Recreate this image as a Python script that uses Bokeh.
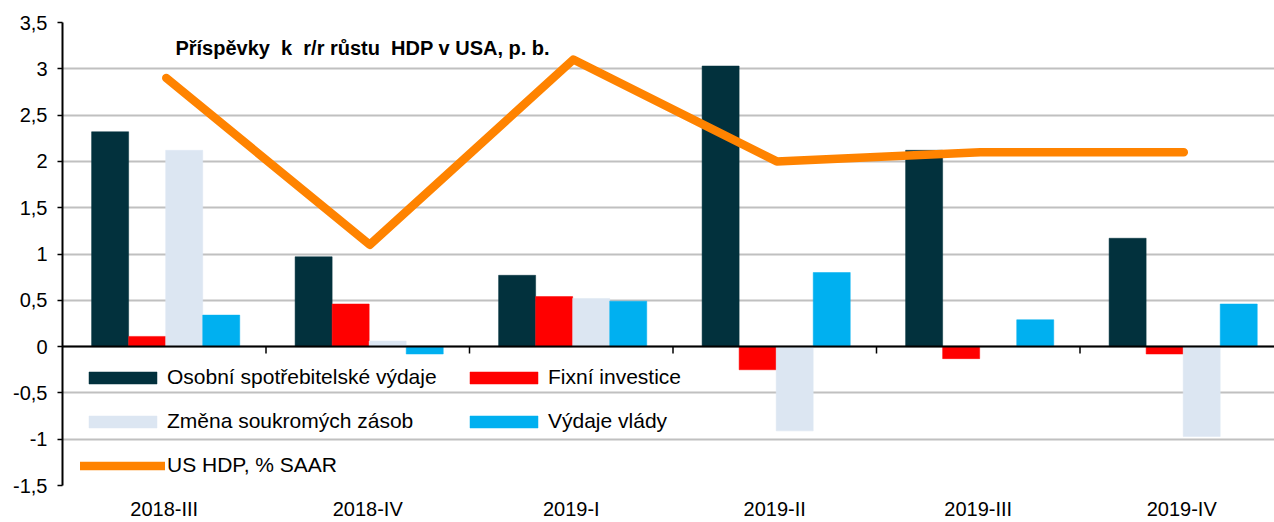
from bokeh.plotting import figure
from bokeh.models import (Range1d, FixedTicker, Legend, LegendItem,
                          Span, Label, ColumnDataSource)
from bokeh.embed import file_html
from bokeh.resources import INLINE

quarters = ["2018-III", "2018-IV", "2019-I", "2019-II", "2019-III", "2019-IV"]
consumption = [2.32, 0.97, 0.77, 3.03, 2.12, 1.17]
fixed_investment = [0.11, 0.46, 0.54, -0.25, -0.13, -0.08]
inventories = [2.12, 0.06, 0.52, -0.91, 0.0, -0.97]
government = [0.34, -0.08, 0.49, 0.80, 0.29, 0.46]
gdp_saar = [2.9, 1.1, 3.1, 2.0, 2.1, 2.1]

y_ticks = [-1.5, -1.0, -0.5, 0.0, 0.5, 1.0, 1.5, 2.0, 2.5, 3.0, 3.5]
y_tick_labels = ["-1,5", "-1", "-0,5", "0", "0,5", "1", "1,5", "2", "2,5", "3", "3,5"]

series_names = ["Osobní spotřebitelské výdaje", "Fixní investice",
                "Změna soukromých zásob", "Výdaje vlády"]
line_name = "US HDP, % SAAR"
NB = "\u00a0"
title_text = f"Příspěvky {NB}k {NB}r/r růstu {NB}HDP v USA, p. b."

colors = ["#02313D", "#FF0000", "#DCE6F2", "#00B0F0"]
line_color = "#FF8300"
FONT = "Liberation Sans"

n = len(quarters)
centers = [i + 0.5 for i in range(n)]   # category index -> axis position

bw = 0.182
offsets = [-0.266, -0.084, 0.098, 0.280]
series = [consumption, fixed_investment, inventories, government]

p = figure(x_range=Range1d(0, n * 1212 / 1221), y_range=Range1d(-1.5, 3.5),
           width=1274, height=522, output_backend="svg", toolbar_location=None,
           min_border_left=62, min_border_right=0, min_border_top=22,
           min_border_bottom=35)
p.outline_line_color = None
p.background_fill_color = "white"

bar_renderers = []
for vals, off, col in zip(series, offsets, colors):
    src = ColumnDataSource(dict(x=[c + off for c in centers], top=vals))
    r = p.vbar(x="x", top="top", bottom=0, width=bw, source=src,
               fill_color=col, line_color=col, line_width=0.5)
    bar_renderers.append(r)

# zero line
p.add_layout(Span(location=0, dimension="width", line_color="black", line_width=2))

# tick marks at category boundaries on the zero line
bounds = list(range(1, n))
p.segment(x0=bounds, x1=bounds, y0=[0] * len(bounds), y1=[-0.075] * len(bounds),
          line_color="black", line_width=1.5)

line_src = ColumnDataSource(dict(x=[c + 0.01 for c in centers], y=gdp_saar))
line_r = p.line(x="x", y="y", source=line_src, line_color=line_color,
                line_width=8.5, line_cap="round", line_join="round")

# axes
p.yaxis.ticker = FixedTicker(ticks=y_ticks)
p.yaxis.major_label_overrides = {t: l for t, l in zip(y_ticks, y_tick_labels)}
p.yaxis.axis_line_color = "black"
p.yaxis.axis_line_width = 2
p.yaxis.major_tick_out = 5
p.yaxis.major_tick_in = 0
p.yaxis.major_tick_line_width = 1.5
p.yaxis.minor_tick_line_color = None
p.yaxis.major_label_text_font = FONT
p.yaxis.major_label_text_font_size = "20px"
p.yaxis.major_label_text_color = "black"
p.yaxis.major_label_standoff = 10

p.xaxis.ticker = FixedTicker(ticks=centers)
p.xaxis.major_label_overrides = {c: q for c, q in zip(centers, quarters)}
p.xaxis.axis_line_color = None
p.xaxis.major_tick_line_color = None
p.xaxis.major_tick_out = 0
p.xaxis.major_tick_in = 0
p.xaxis.minor_tick_line_color = None
p.xaxis.major_label_text_font = FONT
p.xaxis.major_label_text_font_size = "20px"
p.xaxis.major_label_text_color = "black"
p.xaxis.major_label_standoff = 12

p.xgrid.grid_line_color = None
p.ygrid.grid_line_color = "#C0C0C0"
p.ygrid.grid_line_width = 2
p.ygrid.ticker = FixedTicker(ticks=y_ticks)

# title inside plot
p.add_layout(Label(x=0.555, y=3.225, text=title_text, text_font=FONT,
                   text_font_size="20px", text_font_style="bold",
                   text_baseline="middle", text_color="black"))

items = [LegendItem(label=series_names[0], renderers=[bar_renderers[0]]),
         LegendItem(label=series_names[2], renderers=[bar_renderers[2]]),
         LegendItem(label=line_name, renderers=[line_r]),
         LegendItem(label=series_names[1], renderers=[bar_renderers[1]]),
         LegendItem(label=series_names[3], renderers=[bar_renderers[3]])]
legend = Legend(items=items, location=(18, 8), ncols=2,
                glyph_width=85, glyph_height=15, label_height=22, label_width=274,
                spacing=20, padding=0, margin=0, label_standoff=2,
                label_text_font=FONT, label_text_font_size="21px",
                label_text_color="black",
                background_fill_alpha=0, border_line_alpha=0)
p.add_layout(legend, "center")

open("out.html", "w").write(file_html(p, INLINE))
